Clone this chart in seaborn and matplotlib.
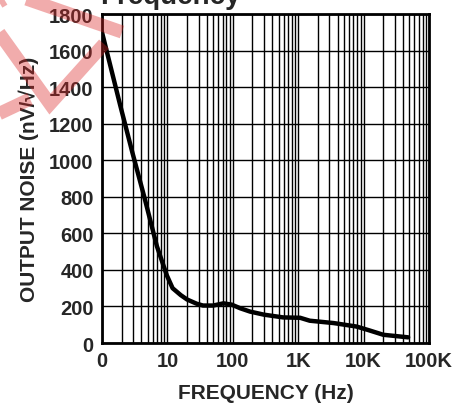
import matplotlib
matplotlib.use("Agg")
import matplotlib.pyplot as plt
import matplotlib.ticker as mticker
from matplotlib.patches import Polygon
import pandas as pd
import seaborn as sns

# values
freq_hz = [1, 1.9, 2.9, 4.5, 6.9, 9.8, 12, 16, 20, 28, 35, 50, 72, 96, 130, 183,
           300, 590, 1070, 1500, 3500, 7800, 12000, 20000, 48000]
noise_nv = [1700, 1300, 1045, 790, 530, 370, 300, 262, 238, 215, 205, 205, 217, 210,
            190, 172, 155, 140, 138, 122, 109, 90, 70, 45, 31]

x_ticks = [1, 10, 100, 1000, 10000, 100000]
x_tick_labels = ['0', '10', '100', '1K', '10K', '100K']
y_ticks = list(range(0, 1801, 200))

df = pd.DataFrame({'freq': freq_hz, 'noise': noise_nv})

sns.set_style("white")
plt.rcParams['font.family'] = ['Liberation Sans', 'DejaVu Sans']
plt.rcParams['font.weight'] = 'bold'

W, H = 456, 406
fig = plt.figure(figsize=(W / 100, H / 100), dpi=100)
ax = fig.add_axes([0.2237, 0.1527, 0.7171, 0.8103])

sns.lineplot(x='freq', y='noise', data=df, ax=ax, color='black', linewidth=3.2, zorder=5)

ax.set_xscale('log')
ax.set_xlim(1, 100000)
ax.set_ylim(0, 1800)
ax.set_xticks(x_ticks)
ax.set_xticklabels(x_tick_labels)
ax.xaxis.set_minor_locator(mticker.LogLocator(base=10, subs=range(2, 10), numticks=20))
ax.xaxis.set_minor_formatter(mticker.NullFormatter())
ax.set_yticks(y_ticks)

ax.tick_params(which='both', length=0, labelsize=14.5, pad=6)
for lbl in ax.get_xticklabels() + ax.get_yticklabels():
    lbl.set_fontweight('bold')
for sp in ax.spines.values():
    sp.set_color('black')
    sp.set_linewidth(2)

# grid after tick_params so the minor lines stay on
ax.grid(True, which='major', axis='both', color='black', linewidth=1.0)
ax.grid(True, which='minor', axis='x', color='black', linewidth=1.0)

ax.set_xlabel('FREQUENCY (Hz)', fontsize=15, fontweight='bold', labelpad=9)
ax.set_ylabel('OUTPUT NOISE (nV/√Hz)', fontsize=15, fontweight='bold', labelpad=7)

# title line, mostly cut off by the top edge in the reference
fig.text(0.373, 0.990, 'Frequency', fontsize=20, fontweight='bold', ha='center', va='baseline')

# pink watermark fragment in the top-left corner (pixel coords)
stamp = [
    [(15, -4), (122, 33)],
    [(-8, 24), (50, 105), (104, 45)],
    [(-6, 117), (30, 100)],
    [(-6, 6), (14, -6)],
]
for pts in stamp:
    xy = [(px / W, 1 - py / H) for px, py in pts]
    fig.patches.append(Polygon(xy, closed=False, fill=False, edgecolor=(0.86, 0.15, 0.15),
                               alpha=0.38, linewidth=9.5, joinstyle='miter',
                               transform=fig.transFigure, figure=fig, zorder=10))

plt.savefig('out.png', dpi=100)
